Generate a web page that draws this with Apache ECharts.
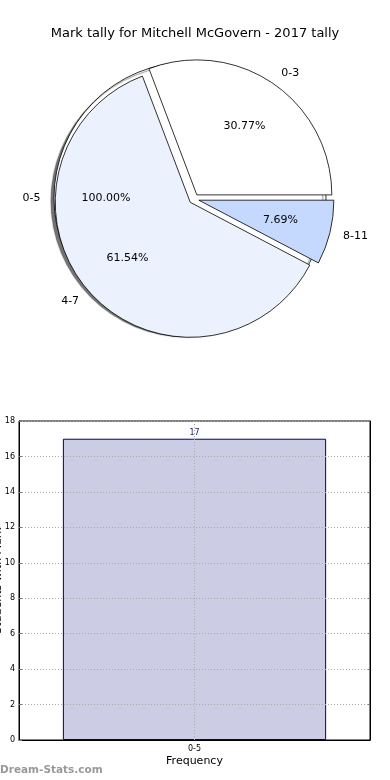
<!DOCTYPE html>
<html><head><meta charset="utf-8">
<script src="https://cdn.jsdelivr.net/npm/echarts@6/dist/echarts.min.js"></script>
<style>html,body{margin:0;padding:0;background:#fff}#c{width:390px;height:780px}</style>
</head><body><div id="c"></div>
<script>
const titleText = 'Mark tally for Mitchell McGovern - 2017 tally';
const pieCategories = ['0-3', '4-7', '8-11'];
const pieValues = [4, 8, 1];
const pieColors = ['#ffffff', '#ebf1fd', '#c5d8fe'];
const totalCategories = ['0-5'];
const totalValues = [17];
const barCategories = ['0-5'];
const barValues = [17];
const yTickValues = [0, 2, 4, 6, 8, 10, 12, 14, 16, 18];
const xAxisName = 'Frequency';
const yAxisName = 'Students with Mark';
const watermark = 'Dream-Stats.com';

const FONT = 'DejaVu Sans';
const R = 135;
const pctFmt = p => p.percent.toFixed(2) + '%';
const edge = {borderColor: '#000', borderWidth: 0.8};

const chart = echarts.init(document.getElementById('c'), null, {renderer: 'canvas'});

function pieBase(center, radius) {
  return {
    type: 'pie', center: center, radius: radius, startAngle: 0, clockwise: false,
    silent: true, avoidLabelOverlap: false, emphasis: {disabled: true},
    animation: false
  };
}

const mainData = pieCategories.map((n, i) => ({
  name: n, value: pieValues[i], selected: true,
  itemStyle: Object.assign({color: pieColors[i]}, edge),
  select: {itemStyle: Object.assign({color: pieColors[i]}, edge)}
}));
const mainDataLbl = pieCategories.map((n, i) => ({
  name: n, value: pieValues[i], selected: true
}));

const option = {
  animation: false,
  title: {
    text: titleText, left: 'center', top: 22,
    textStyle: {fontFamily: FONT, fontSize: 13, fontWeight: 'normal', color: '#000'}
  },
  graphic: [{
    type: 'text', left: 0, top: 765,
    style: {text: watermark, fill: '#999', font: 'bold 10.5px "DejaVu Sans"'}
  }],
  grid: {left: 19, right: 20, top: 421, bottom: 40, containLabel: false, outerBoundsMode: 'none',
    show: true, borderColor: '#000', borderWidth: 1, backgroundColor: 'transparent'},
  xAxis: {
    type: 'category', data: barCategories, z: 3,
    name: xAxisName, nameLocation: 'middle', nameGap: 16, nameMoveOverlap: false,
    nameTextStyle: {fontFamily: FONT, fontSize: 11, color: '#000'},
    axisLine: {lineStyle: {color: '#000'}},
    axisTick: {show: false},
    axisLabel: {fontFamily: FONT, fontSize: 8, color: '#000', margin: 5},
    splitLine: {show: true, alignWithLabel: true, lineStyle: {color: '#aaa', type: [1, 2], width: 1}}
  },
  yAxis: [{
    type: 'value', min: yTickValues[0], max: yTickValues[yTickValues.length - 1],
    interval: yTickValues[1] - yTickValues[0], z: 3,
    name: yAxisName, nameLocation: 'middle', nameGap: 15, nameMoveOverlap: false,
    nameTextStyle: {fontFamily: FONT, fontSize: 11, color: '#000'},
    axisLine: {show: true, lineStyle: {color: '#000'}},
    axisTick: {show: true, inside: true, length: 3, lineStyle: {color: '#777'}},
    axisLabel: {fontFamily: FONT, fontSize: 8, color: '#000', margin: 4},
    splitLine: {show: true, lineStyle: {color: '#aaa', type: [1, 2], width: 1}}
  }, {
    type: 'value', position: 'right', min: yTickValues[0], max: yTickValues[yTickValues.length - 1],
    interval: yTickValues[1] - yTickValues[0],
    axisLine: {show: true, lineStyle: {color: '#000'}},
    axisTick: {show: true, inside: true, length: 3, lineStyle: {color: '#777'}},
    axisLabel: {show: false}, splitLine: {show: false}
  }],
  series: [
    Object.assign(pieBase([190, 198], R + 1), {
      data: totalCategories.map((n, i) => ({name: n, value: totalValues[i]})),
      itemStyle: {color: '#ffffff', borderColor: '#000', borderWidth: 0.8,
        shadowColor: 'rgba(0,0,0,0.55)', shadowBlur: 1, shadowOffsetX: -3, shadowOffsetY: 3},
      label: {show: true, position: 'outside', formatter: '{b}', fontFamily: FONT, fontSize: 11, color: '#000', distanceToLabelLine: 0},
      labelLine: {show: false, length: 0.1 * R, length2: 0}
    }),
    Object.assign(pieBase([190, 198], 1.2 * R), {
      data: totalCategories.map((n, i) => ({name: n, value: totalValues[i]})),
      itemStyle: {color: 'transparent', borderWidth: 0},
      label: {show: true, position: 'inside', formatter: pctFmt, fontFamily: FONT, fontSize: 11, color: '#000'},
      labelLine: {show: false}
    }),
    Object.assign(pieBase([194, 199], R), {
      selectedMode: 'multiple', selectedOffset: 5,
      data: mainData,
      label: {show: true, position: 'outside', formatter: '{b}', fontFamily: FONT, fontSize: 11, color: '#000', distanceToLabelLine: 0},
      labelLine: {show: false, length: 0.1 * R, length2: 0}
    }),
    Object.assign(pieBase([194, 199], 1.2 * R), {
      selectedMode: 'multiple', selectedOffset: 5,
      data: mainDataLbl,
      itemStyle: {color: 'transparent', borderWidth: 0},
      select: {itemStyle: {color: 'transparent', borderWidth: 0}},
      label: {show: true, position: 'inside', formatter: pctFmt, fontFamily: FONT, fontSize: 11, color: '#000'},
      labelLine: {show: false}
    }),
    {
      type: 'bar', data: barValues, barWidth: '75%', xAxisIndex: 0, yAxisIndex: 0, z: 2,
      itemStyle: {color: '#ccccE4', borderColor: '#00007a', borderWidth: 1},
      label: {show: true, position: 'top', distance: 2, fontFamily: FONT, fontSize: 8, color: '#1b1b7a'},
      silent: true
    }
  ]
};
chart.setOption(option);
</script></body></html>
